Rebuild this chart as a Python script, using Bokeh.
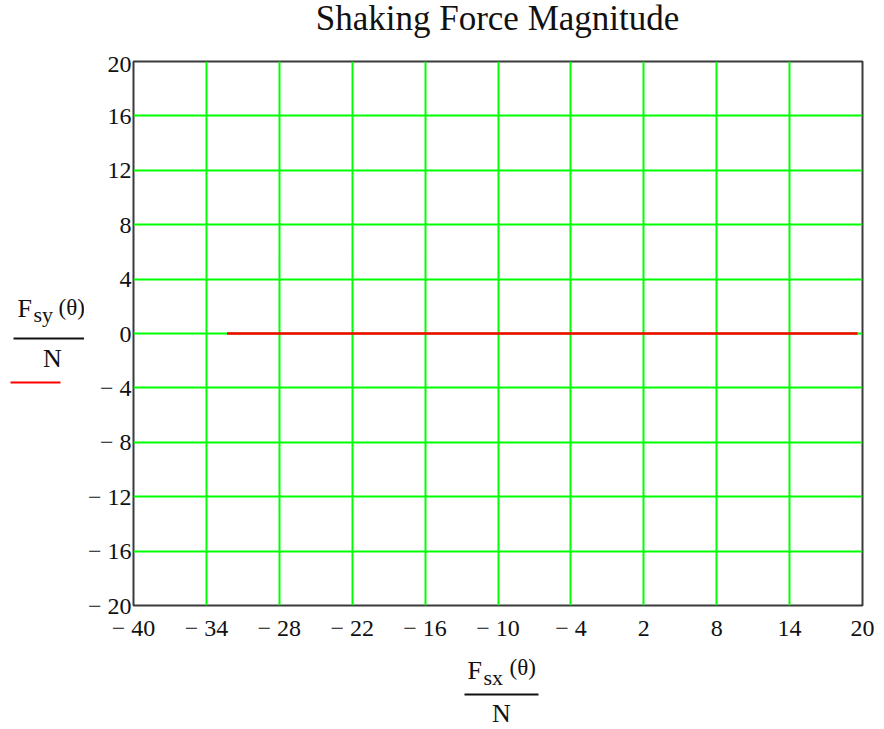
from bokeh.plotting import figure
from bokeh.models import FixedTicker, Range1d
from bokeh.layouts import row, column
from bokeh.core.properties import value
from bokeh.embed import file_html
from bokeh.resources import INLINE

# ---- data ----
fsx = [-32.3, 19.6]          # F_sx(theta)/N
fsy = [0.0, 0.0]             # F_sy(theta)/N
x_ticks = [-40, -34, -28, -22, -16, -10, -4, 2, 8, 14, 20]
y_ticks = [-20, -16, -12, -8, -4, 0, 4, 8, 12, 16, 20]
title_text = "Shaking Force Magnitude"

def fmt(v):
    return ("\u2212 " + str(abs(v))) if v < 0 else str(v)

SERIF = "Liberation Serif"
INK = "#111111"

W, H = 884, 729
TH = 50            # height of top (title) strip
LW = 84            # width of left label strip
BH = 79            # height of bottom label strip
FRAME_L, FRAME_T, FRAME_R, FRAME_B = 133, 61, 862, 605

# ---------------- main chart ----------------
MW, MH = W - LW, H - BH - TH
BT, BB = FRAME_T - TH, (H - BH) - FRAME_B
p = figure(width=MW, height=MH, x_range=(-40, 20), y_range=(-20, 20),
           title=None, toolbar_location=None, output_backend="svg",
           min_border_left=FRAME_L - LW, min_border_right=W - FRAME_R,
           min_border_top=BT, min_border_bottom=BB)
p.background_fill_color = "white"
p.border_fill_color = "white"
p.outline_line_color = "#3a3a3a"
p.outline_line_width = 2

for ax, ticks in ((p.xaxis[0], x_ticks), (p.yaxis[0], y_ticks)):
    ax.ticker = FixedTicker(ticks=ticks)
    ax.major_label_overrides = {t: fmt(t) for t in ticks}
    ax.major_tick_in = 0
    ax.major_tick_out = 0
    ax.minor_tick_in = 0
    ax.minor_tick_out = 0
    ax.axis_line_color = None
    ax.major_label_text_font = SERIF
    ax.major_label_text_font_size = "24px"
    ax.major_label_text_color = INK
p.xaxis.major_label_standoff = 9
p.yaxis.major_label_standoff = 2

p.xgrid.ticker = FixedTicker(ticks=x_ticks)
p.ygrid.ticker = FixedTicker(ticks=y_ticks)
for g in (p.xgrid[0], p.ygrid[0]):
    g.grid_line_color = "#00ff00"
    g.grid_line_width = 2

p.line(fsx, fsy, line_color="#ff0000", line_width=2.5)

# ---------------- label strips (pixel coordinates of the page) ----------------
def strip(w, h, xr, yr, bt=0, bb=0):
    f = figure(width=w, height=h, x_range=Range1d(*xr), y_range=Range1d(*yr),
               toolbar_location=None, output_backend="svg", title=None,
               x_axis_location=None, y_axis_location=None, min_border=0,
               min_border_top=bt, min_border_bottom=bb)
    f.outline_line_color = None
    f.grid.visible = False
    f.background_fill_color = "white"
    f.border_fill_color = "white"
    return f

SHIFT = 0.35   # baseline correction, in em

def txt(f, s, x, y, size, align="left"):
    y = y - SHIFT * size
    f.text(x=[x], y=[y], text=[s], text_font=value(SERIF), text_font_size=value(f"{size}px"),
           text_align=align, text_baseline="alphabetic", text_color=INK)

top = strip(W, TH, (0, W), (TH, 0))
txt(top, title_text, 497, 30, 35, align="center")

# left strip: its frame spans the same rows as the main frame
left = strip(LW, MH, (0, LW), (FRAME_B, FRAME_T), bt=BT, bb=BB)
txt(left, "F", 17, 317, 26)
txt(left, "sy", 33, 322, 22)
txt(left, "(\u03b8)", 58, 315, 23)
left.segment(x0=[13], y0=[338], x1=[LW], y1=[338], line_color=INK, line_width=2)
txt(left, "N", 52, 367, 26, align="center")
left.segment(x0=[10], y0=[382], x1=[60], y1=[382], line_color="#ff0000", line_width=2)

bottom = strip(W, BH, (0, W), (H, H - BH))
txt(bottom, "F", 467, 679, 26)
txt(bottom, "sx", 483, 685, 22)
txt(bottom, "(\u03b8)", 509, 675, 23)
bottom.segment(x0=[464], y0=[694], x1=[538], y1=[694], line_color=INK, line_width=2)
txt(bottom, "N", 501, 722, 26, align="center")

layout = column(top, row(left, p, spacing=0), bottom, spacing=0)
open("out.html", "w").write(file_html(layout, INLINE))
